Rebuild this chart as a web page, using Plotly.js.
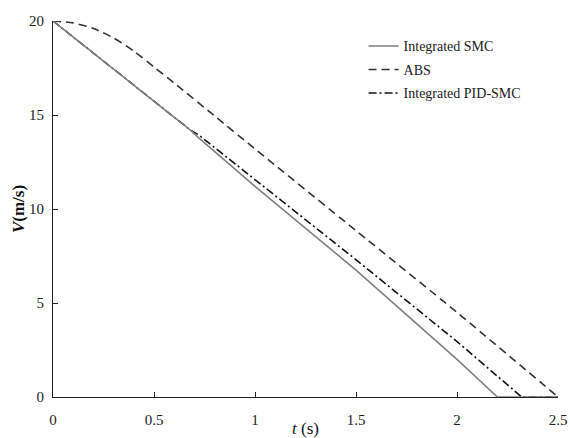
<!DOCTYPE html>
<html>
<head>
<meta charset="utf-8">
<script src="https://cdn.plot.ly/plotly-3.0.1.min.js"></script>
<style>html,body{margin:0;padding:0;background:#fff;}#chart{width:570px;height:438px;}</style>
</head>
<body>
<div id="chart"></div>
<script>
// Integrated SMC
const smcT = [0, 0.1, 0.2, 0.3, 0.4, 0.5, 0.6, 0.68, 0.72, 1.0, 1.5, 2.0, 2.2, 2.5];
const smcV = [20, 19.15, 18.3, 17.45, 16.6, 15.75, 14.9, 14.2, 13.8, 11.2, 6.75, 2.0, 0, 0];
// ABS
const absT = [0, 0.1, 0.2, 0.3, 0.4, 0.5, 0.6, 0.8, 1.0, 1.5, 2.0, 2.5];
const absV = [20, 19.9, 19.6, 19.1, 18.4, 17.55, 16.7, 14.95, 13.2, 8.85, 4.5, 0];
// Integrated PID-SMC
const pidT = [0, 0.1, 0.2, 0.3, 0.4, 0.5, 0.6, 0.68, 0.72, 1.0, 1.5, 2.0, 2.32, 2.5];
const pidV = [20, 19.15, 18.3, 17.45, 16.6, 15.75, 14.9, 14.2, 13.95, 11.55, 7.3, 2.95, 0, 0];

const xTickVals = [0, 0.5, 1, 1.5, 2, 2.5];
const xTickText = ["0", "0.5", "1", "1.5", "2", "2.5"];
const yTickVals = [0, 5, 10, 15, 20];
const yTickText = ["0", "5", "10", "15", "20"];

const seriesNames = ["Integrated SMC", "ABS", "Integrated PID-SMC"];

const FONT = "Liberation Serif";

const traces = [
  {x: pidT, y: pidV, name: seriesNames[2], mode: "lines", legendrank: 3, legendgroup: "c",
   line: {color: "#111", width: 1.6, dash: "8px,3px,2px,3px"}},
  {x: absT, y: absV, name: seriesNames[1], mode: "lines", legendrank: 2, legendgroup: "b",
   line: {color: "#333", width: 1.6, dash: "8px,5px", shape: "spline", smoothing: 0.6}},
  {x: smcT, y: smcV, name: seriesNames[0], mode: "lines", legendrank: 1, legendgroup: "a",
   line: {color: "#808080", width: 1.6}}
];

const layout = {
  width: 570, height: 438,
  margin: {l: 53, r: 12, t: 21, b: 41},
  paper_bgcolor: "#fff", plot_bgcolor: "#fff",
  font: {family: FONT, size: 14, color: "#222"},
  showlegend: true,
  legend: {x: 0.615, y: 0.975, xanchor: "left", yanchor: "top",
           font: {family: FONT, size: 14, color: "#222"},
           bgcolor: "rgba(0,0,0,0)", borderwidth: 0,
           traceorder: "grouped", tracegroupgap: 2.3},
  xaxis: {range: [0, 2.5], tickvals: xTickVals, ticktext: xTickText,
          ticks: "inside", ticklen: 5, tickcolor: "#222", tickwidth: 1,
          showline: true, linecolor: "#222", linewidth: 1, mirror: false,
          showgrid: false, zeroline: false, ticklabelstandoff: 9,
          tickfont: {family: FONT, size: 15, color: "#222"},
          title: {text: "<i>t</i> (s)", font: {family: FONT, size: 17, color: "#111"}, standoff: 0}},
  yaxis: {range: [0, 20], tickvals: yTickVals, ticktext: yTickText,
          ticks: "inside", ticklen: 5, tickcolor: "#222", tickwidth: 1,
          showline: true, linecolor: "#222", linewidth: 1, mirror: false,
          showgrid: false, zeroline: false, ticklabelstandoff: 5,
          tickfont: {family: FONT, size: 15, color: "#222"},
          title: {text: "<b><i>V</i>(m/s)</b>", font: {family: FONT, size: 17, color: "#111"}, standoff: 0}}
};

Plotly.newPlot("chart", traces, layout, {displayModeBar: false, staticPlot: true});
</script>
</body>
</html>
